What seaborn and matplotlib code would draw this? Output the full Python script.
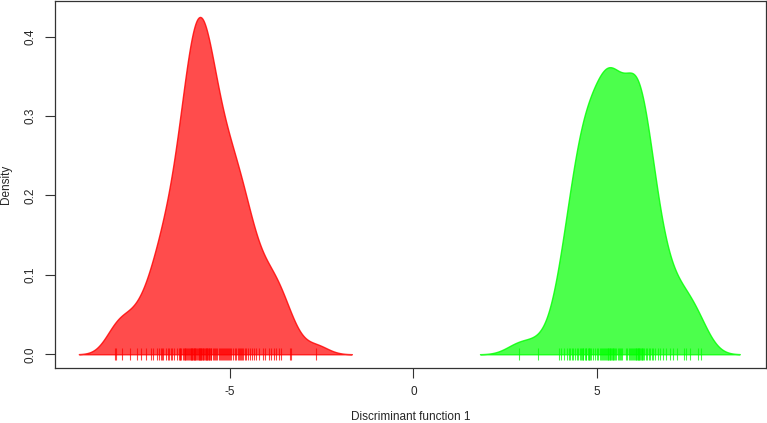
import numpy as np
import pandas as pd
import matplotlib
matplotlib.use("Agg")
import matplotlib.pyplot as plt
import seaborn as sns

# Discriminant function 1 scores, group 1 (red)
red_scores = [
    -8.15, -8.11, -7.95, -7.74, -7.54, -7.43, -7.30, -7.16, -7.10, -7.00,
    -6.95, -6.90, -6.86, -6.82, -6.75, -6.70, -6.66, -6.62, -6.58, -6.52,
    -6.46, -6.41, -6.38, -6.36, -6.33,
    -6.29, -6.27, -6.24, -6.22, -6.21, -6.17, -6.15, -6.12, -6.10, -6.08,
    -6.06, -6.04, -6.02, -6.00, -5.98, -5.96, -5.95, -5.92, -5.90, -5.88,
    -5.86, -5.84, -5.82, -5.80, -5.79, -5.77, -5.75, -5.73, -5.71, -5.69,
    -5.67, -5.65, -5.63, -5.61, -5.59, -5.57, -5.55, -5.53, -5.51, -5.48,
    -5.45, -5.42,
    -6.05, -5.83, -5.64,
    -5.39, -5.35, -5.31, -5.28, -5.26, -5.22, -5.20, -5.18, -5.14, -5.12,
    -5.08, -5.05, -5.02, -5.00, -4.97, -4.93, -4.88, -4.85,
    -4.79, -4.76, -4.73, -4.70, -4.68, -4.64, -4.60, -4.57,
    -4.52, -4.46, -4.41, -4.36, -4.30,
    -4.22, -4.11, -4.05, -3.95, -3.88, -3.81, -3.74, -3.68, -3.60,
    -3.38, -3.34, -2.66,
]

# Discriminant function 1 scores, group 2 (green)
green_scores = [
    2.87, 3.41, 3.96, 4.02, 4.10, 4.18, 4.24, 4.27, 4.32, 4.36, 4.41, 4.45, 4.50,
    4.55, 4.57, 4.60, 4.62, 4.64, 4.67, 4.70, 4.72, 4.75, 4.78, 4.80, 4.82,
    4.85, 4.90, 4.95, 5.00, 5.03, 5.08, 5.11, 5.14,
    5.17, 5.19, 5.22, 5.25, 5.28, 5.30, 5.32, 5.33, 5.35, 5.37, 5.40,
    5.41, 5.44, 5.45, 5.46, 5.50, 5.53, 5.57, 5.60, 5.63, 5.66, 5.70,
    5.80, 5.84, 5.87, 5.90, 5.93, 5.97, 6.00, 6.02, 6.04, 6.07, 6.08, 6.10,
    6.12, 6.13, 6.15, 6.16, 6.18, 6.20, 6.23, 6.25, 6.27, 6.30, 6.34, 6.38,
    6.42, 6.46, 6.50, 6.55, 6.60,
    6.66, 6.72, 6.82, 6.90, 7.00, 7.09, 7.20, 7.39, 7.45, 7.55, 7.76, 7.85,
]

group_names = ["1", "2"]
group_colors = ["#FF0000", "#00FF00"]

x_ticks = [-5, 0, 5]
y_ticks = [0.0, 0.1, 0.2, 0.3, 0.4]
x_label = "Discriminant function 1"
y_label = "Density"

df = pd.DataFrame({
    "score": red_scores + green_scores,
    "group": [group_names[0]] * len(red_scores) + [group_names[1]] * len(green_scores),
})

sns.set_style("white")
plt.rcParams["font.family"] = ["Liberation Sans", "DejaVu Sans"]

fig = plt.figure(figsize=(7.67, 4.23), dpi=100)
ax = fig.add_axes([55 / 767, 1 - 368 / 423, 711 / 767, 367 / 423])


def nrd0(x):
    x = np.asarray(x)
    sd = np.std(x, ddof=1)
    iqr = np.subtract(*np.percentile(x, [75, 25]))
    lo = min(sd, iqr / 1.34)
    return 0.9 * lo * len(x) ** (-0.2)


for name, col in zip(group_names, group_colors):
    vals = df.loc[df["group"] == name, "score"].to_numpy()
    bw = nrd0(vals)
    factor = bw / np.std(vals, ddof=1)
    sns.kdeplot(x=vals, ax=ax, bw_method=factor, cut=3, gridsize=512,
                fill=True, facecolor=matplotlib.colors.to_rgba(col, 0.7),
                edgecolor=matplotlib.colors.to_rgba(col, 0.8), linewidth=1.0)
    sns.scatterplot(x=vals, y=np.zeros(len(vals)), ax=ax, marker="|", s=64,
                    color=matplotlib.colors.to_rgba(col, 0.75), linewidth=0.8)

ax.set_xlim(-9.78, 9.62)
ax.set_ylim(-0.0173, 0.445)
ax.set_xticks(x_ticks)
ax.set_xticklabels([str(t) for t in x_ticks])
ax.set_yticks(y_ticks)
ax.set_yticklabels([f"{t:.1f}" for t in y_ticks], rotation=90, va="center")
ax.tick_params(axis="both", direction="out", length=7, width=0.8,
               color="#333333", labelsize=8.5, pad=6, bottom=True, left=True)
ax.tick_params(axis="y", pad=6)
for s in ax.spines.values():
    s.set_visible(True)
    s.set_color("#333333")
    s.set_linewidth(0.9)

ax.set_xlabel(x_label, fontsize=8.5, labelpad=9)
ax.set_ylabel(y_label, fontsize=8.5, labelpad=9)

fig.savefig("out.png", dpi=100)
